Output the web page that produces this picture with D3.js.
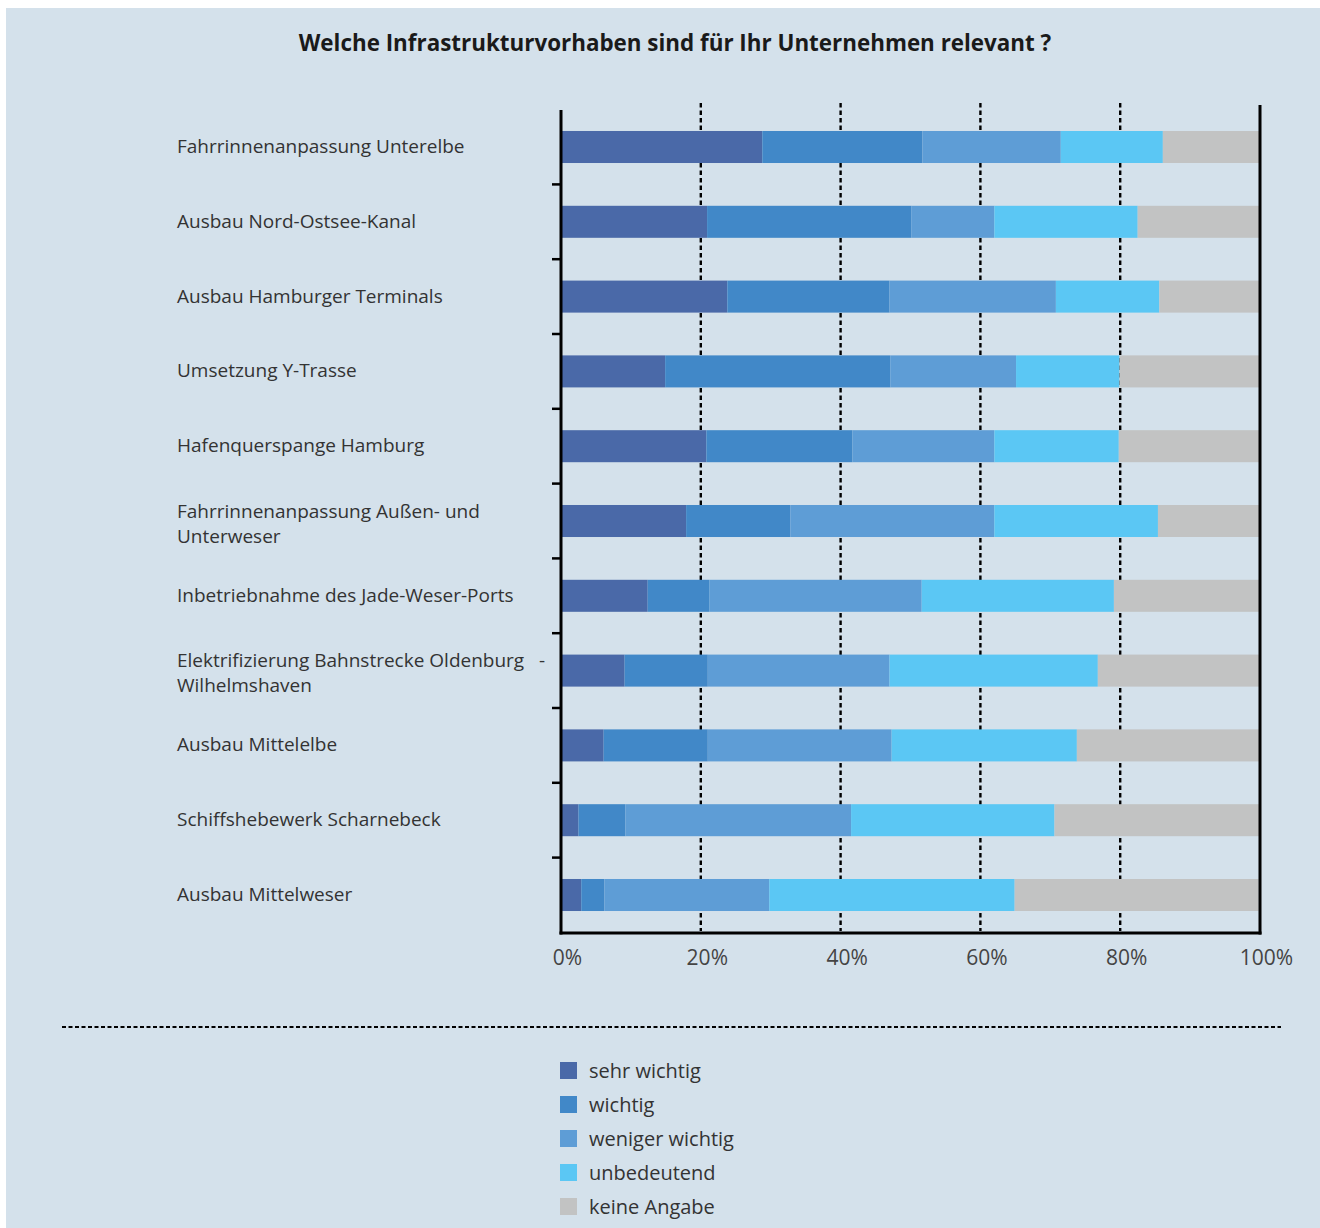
<!DOCTYPE html>
<html lang="de">
<head>
<meta charset="utf-8">
<script src="https://cdn.jsdelivr.net/npm/d3@7"></script>
<style>
  html, body { margin: 0; padding: 0; background: #ffffff; }
  svg { display: block; }
  text { font-family: "Open Sans", "Noto Sans", sans-serif; white-space: pre; }
</style>
</head>
<body>
<svg id="chart" width="1320" height="1228"></svg>
<script>
// Survey: relevance of infrastructure projects (share of answers, %)
const categories = [
  "Fahrrinnenanpassung Unterelbe",
  "Ausbau Nord-Ostsee-Kanal",
  "Ausbau Hamburger Terminals",
  "Umsetzung Y-Trasse",
  "Hafenquerspange Hamburg",
  "Fahrrinnenanpassung Außen- und|Unterweser",
  "Inbetriebnahme des Jade-Weser-Ports",
  "Elektrifizierung Bahnstrecke Oldenburg\u00a0\u00a0 -|Wilhelmshaven",
  "Ausbau Mittelelbe",
  "Schiffshebewerk Scharnebeck",
  "Ausbau Mittelweser"
];
const seriesNames = ["sehr wichtig", "wichtig", "weniger wichtig", "unbedeutend", "keine Angabe"];
const sehrWichtig    = [28.8, 20.9, 23.8, 14.9, 20.8, 17.9, 12.4,  9.1,  6.1,  2.5,  2.9];
const wichtig        = [22.9, 29.2, 23.2, 32.2, 20.9, 14.9,  8.8, 11.9, 14.9,  6.7,  3.3];
const wenigerWichtig = [19.8, 11.9, 23.8, 18.0, 20.3, 29.2, 30.4, 26.0, 26.3, 32.3, 23.6];
const unbedeutend    = [14.6, 20.5, 14.8, 14.8, 17.8, 23.4, 27.5, 29.8, 26.5, 29.1, 35.1];
const keineAngabe    = [13.9, 17.5, 14.4, 20.1, 20.2, 14.6, 20.8, 23.2, 26.2, 29.3, 34.9];
const xTicks = [0, 20, 40, 60, 80, 100];

const colors = ["#4a69a8", "#4188c8", "#5e9dd6", "#5bc7f4", "#c2c3c3"];

// Build the table for the stack layout
const seriesValues = [sehrWichtig, wichtig, wenigerWichtig, unbedeutend, keineAngabe];
const rows = categories.map((c, i) => {
  const r = { category: c };
  seriesNames.forEach((s, k) => { r[s] = seriesValues[k][i]; });
  return r;
});
const stacked = d3.stack().keys(seriesNames)(rows);

const svg = d3.select("#chart");

// Panel background
svg.append("rect").attr("x", 6).attr("y", 8).attr("width", 1314).attr("height", 1220)
  .attr("fill", "#d4e1eb");

// Title
svg.append("text").attr("x", 675).attr("y", 51).attr("text-anchor", "middle")
  .attr("font-size", 22.4).attr("font-weight", 700).attr("fill", "#1a1a1a")
  .text("Welche Infrastrukturvorhaben sind für Ihr Unternehmen relevant ?");

const x = d3.scaleLinear().domain([0, 100]).range([561, 1260]);
const y = d3.scaleBand().domain(categories).range([109.6, 932.4])
  .paddingInner(0.572).paddingOuter(0.286);

// Dotted gridlines
svg.append("g").selectAll("line").data(xTicks.filter(t => t > 0 && t < 100)).join("line")
  .attr("x1", d => x(d)).attr("x2", d => x(d))
  .attr("y1", 103).attr("y2", 931)
  .attr("stroke", "#000").attr("stroke-width", 2.4).attr("stroke-dasharray", "4.5 3");

// Stacked bars
svg.append("g").selectAll("g").data(stacked).join("g")
  .attr("fill", (d, i) => colors[i])
  .selectAll("rect").data(d => d).join("rect")
  .attr("x", d => x(d[0]))
  .attr("y", d => y(d.data.category))
  .attr("width", d => x(d[1]) - x(d[0]))
  .attr("height", y.bandwidth());

// Axis frame: left, right, bottom
const frame = svg.append("g").attr("stroke", "#000").attr("stroke-width", 3);
frame.append("line").attr("x1", 561).attr("x2", 561).attr("y1", 110).attr("y2", 934.5);
frame.append("line").attr("x1", 1260).attr("x2", 1260).attr("y1", 105).attr("y2", 934.5);
frame.append("line").attr("x1", 559.5).attr("x2", 1261.5).attr("y1", 933).attr("y2", 933);

// Category separator ticks on the left axis
const step = y.step();
const sepY = categories.slice(0, -1).map(c => y(c) + y.bandwidth() + (step - y.bandwidth()) / 2);
svg.append("g").selectAll("line").data(sepY).join("line")
  .attr("x1", 552).attr("x2", 561).attr("y1", d => d).attr("y2", d => d)
  .attr("stroke", "#000").attr("stroke-width", 2.5);

// Category labels
const labels = svg.append("g").attr("font-size", 19).attr("fill", "#333");
categories.forEach(c => {
  const lines = c.split("|");
  const cy = y(c) + y.bandwidth() / 2;
  const lh = 25;
  const t = labels.append("text").attr("x", 177);
  lines.forEach((ln, j) => {
    t.append("tspan").attr("x", 177)
      .attr("y", cy + (j - (lines.length - 1) / 2) * lh + (lines.length > 1 ? 2 : -1))
      .attr("dominant-baseline", "central")
      .text(ln);
  });
});

// X axis tick labels
const xAxis = d3.axisBottom(x).tickValues(xTicks).tickFormat(d => d + "%").tickSize(0).tickPadding(0);
const gx = svg.append("g").attr("transform", "translate(6,950)").call(xAxis);
gx.select(".domain").remove();
gx.selectAll("text").attr("font-size", 21).attr("fill", "#444")
  .attr("font-family", "'Open Sans', 'Noto Sans', sans-serif");

// Dashed separator above legend
svg.append("line").attr("x1", 62).attr("x2", 1281).attr("y1", 1027).attr("y2", 1027)
  .attr("stroke", "#000").attr("stroke-width", 2).attr("stroke-dasharray", "4 2.5");

// Legend
const legend = svg.append("g").selectAll("g").data(seriesNames).join("g")
  .attr("transform", (d, i) => `translate(560,${1062 + i * 34})`);
legend.append("rect").attr("width", 17).attr("height", 17).attr("fill", (d, i) => colors[i]);
legend.append("text").attr("x", 29).attr("y", 8.5).attr("dominant-baseline", "central")
  .attr("font-size", 20).attr("fill", "#333").text(d => d);
</script>
</body>
</html>
